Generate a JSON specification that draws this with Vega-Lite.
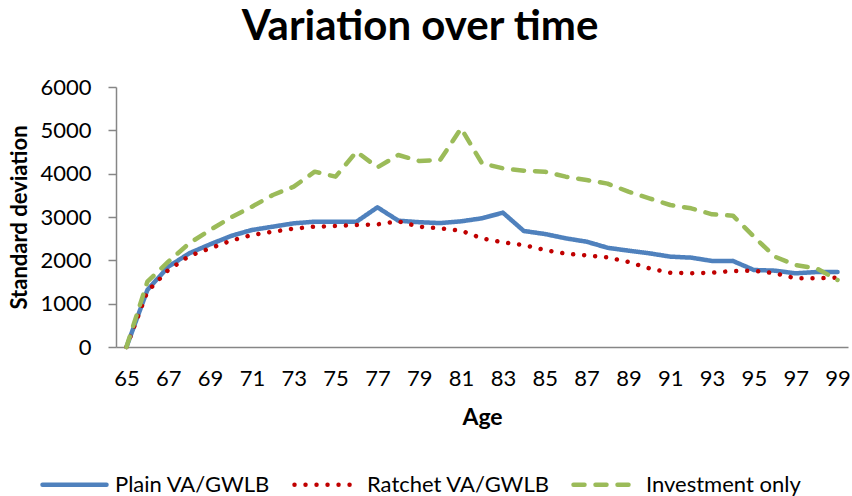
{
  "$schema": "https://vega.github.io/schema/vega-lite/v6.json",
  "width": 732,
  "height": 260,
  "autosize": "none",
  "padding": {"left": 116, "top": 87, "right": 4, "bottom": 149},
  "background": "white",
  "title": {
    "text": "Variation over time",
    "font": "Lato",
    "fontSize": 42,
    "fontWeight": "bold",
    "color": "#000000",
    "anchor": "middle",
    "frame": "group",
    "dx": -62,
    "offset": 27
  },
  "config": {
    "view": {"stroke": null},
    "font": "Lato"
  },
  "data": {
    "values": [
      {"age": 65, "series": "Plain VA/GWLB", "value": 0},
      {"age": 66, "series": "Plain VA/GWLB", "value": 1315},
      {"age": 67, "series": "Plain VA/GWLB", "value": 1853},
      {"age": 68, "series": "Plain VA/GWLB", "value": 2162},
      {"age": 69, "series": "Plain VA/GWLB", "value": 2370},
      {"age": 70, "series": "Plain VA/GWLB", "value": 2562},
      {"age": 71, "series": "Plain VA/GWLB", "value": 2700},
      {"age": 72, "series": "Plain VA/GWLB", "value": 2777},
      {"age": 73, "series": "Plain VA/GWLB", "value": 2854},
      {"age": 74, "series": "Plain VA/GWLB", "value": 2892},
      {"age": 75, "series": "Plain VA/GWLB", "value": 2892},
      {"age": 76, "series": "Plain VA/GWLB", "value": 2892},
      {"age": 77, "series": "Plain VA/GWLB", "value": 3224},
      {"age": 78, "series": "Plain VA/GWLB", "value": 2915},
      {"age": 79, "series": "Plain VA/GWLB", "value": 2880},
      {"age": 80, "series": "Plain VA/GWLB", "value": 2860},
      {"age": 81, "series": "Plain VA/GWLB", "value": 2900},
      {"age": 82, "series": "Plain VA/GWLB", "value": 2970},
      {"age": 83, "series": "Plain VA/GWLB", "value": 3100},
      {"age": 84, "series": "Plain VA/GWLB", "value": 2677},
      {"age": 85, "series": "Plain VA/GWLB", "value": 2608},
      {"age": 86, "series": "Plain VA/GWLB", "value": 2508},
      {"age": 87, "series": "Plain VA/GWLB", "value": 2430},
      {"age": 88, "series": "Plain VA/GWLB", "value": 2290},
      {"age": 89, "series": "Plain VA/GWLB", "value": 2223},
      {"age": 90, "series": "Plain VA/GWLB", "value": 2162},
      {"age": 91, "series": "Plain VA/GWLB", "value": 2085},
      {"age": 92, "series": "Plain VA/GWLB", "value": 2062},
      {"age": 93, "series": "Plain VA/GWLB", "value": 1985},
      {"age": 94, "series": "Plain VA/GWLB", "value": 1985},
      {"age": 95, "series": "Plain VA/GWLB", "value": 1777},
      {"age": 96, "series": "Plain VA/GWLB", "value": 1762},
      {"age": 97, "series": "Plain VA/GWLB", "value": 1700},
      {"age": 98, "series": "Plain VA/GWLB", "value": 1731},
      {"age": 99, "series": "Plain VA/GWLB", "value": 1731},
      {"age": 65, "series": "Ratchet VA/GWLB", "value": 0},
      {"age": 66, "series": "Ratchet VA/GWLB", "value": 1280},
      {"age": 67, "series": "Ratchet VA/GWLB", "value": 1777},
      {"age": 68, "series": "Ratchet VA/GWLB", "value": 2100},
      {"age": 69, "series": "Ratchet VA/GWLB", "value": 2277},
      {"age": 70, "series": "Ratchet VA/GWLB", "value": 2454},
      {"age": 71, "series": "Ratchet VA/GWLB", "value": 2585},
      {"age": 72, "series": "Ratchet VA/GWLB", "value": 2662},
      {"age": 73, "series": "Ratchet VA/GWLB", "value": 2731},
      {"age": 74, "series": "Ratchet VA/GWLB", "value": 2777},
      {"age": 75, "series": "Ratchet VA/GWLB", "value": 2792},
      {"age": 76, "series": "Ratchet VA/GWLB", "value": 2815},
      {"age": 77, "series": "Ratchet VA/GWLB", "value": 2831},
      {"age": 78, "series": "Ratchet VA/GWLB", "value": 2900},
      {"age": 79, "series": "Ratchet VA/GWLB", "value": 2777},
      {"age": 80, "series": "Ratchet VA/GWLB", "value": 2738},
      {"age": 81, "series": "Ratchet VA/GWLB", "value": 2685},
      {"age": 82, "series": "Ratchet VA/GWLB", "value": 2508},
      {"age": 83, "series": "Ratchet VA/GWLB", "value": 2415},
      {"age": 84, "series": "Ratchet VA/GWLB", "value": 2354},
      {"age": 85, "series": "Ratchet VA/GWLB", "value": 2238},
      {"age": 86, "series": "Ratchet VA/GWLB", "value": 2154},
      {"age": 87, "series": "Ratchet VA/GWLB", "value": 2115},
      {"age": 88, "series": "Ratchet VA/GWLB", "value": 2069},
      {"age": 89, "series": "Ratchet VA/GWLB", "value": 1962},
      {"age": 90, "series": "Ratchet VA/GWLB", "value": 1815},
      {"age": 91, "series": "Ratchet VA/GWLB", "value": 1715},
      {"age": 92, "series": "Ratchet VA/GWLB", "value": 1700},
      {"age": 93, "series": "Ratchet VA/GWLB", "value": 1715},
      {"age": 94, "series": "Ratchet VA/GWLB", "value": 1754},
      {"age": 95, "series": "Ratchet VA/GWLB", "value": 1762},
      {"age": 96, "series": "Ratchet VA/GWLB", "value": 1700},
      {"age": 97, "series": "Ratchet VA/GWLB", "value": 1585},
      {"age": 98, "series": "Ratchet VA/GWLB", "value": 1585},
      {"age": 99, "series": "Ratchet VA/GWLB", "value": 1600},
      {"age": 65, "series": "Investment only", "value": 0},
      {"age": 66, "series": "Investment only", "value": 1508},
      {"age": 67, "series": "Investment only", "value": 1969},
      {"age": 68, "series": "Investment only", "value": 2392},
      {"age": 69, "series": "Investment only", "value": 2700},
      {"age": 70, "series": "Investment only", "value": 2992},
      {"age": 71, "series": "Investment only", "value": 3238},
      {"age": 72, "series": "Investment only", "value": 3508},
      {"age": 73, "series": "Investment only", "value": 3700},
      {"age": 74, "series": "Investment only", "value": 4046},
      {"age": 75, "series": "Investment only", "value": 3931},
      {"age": 76, "series": "Investment only", "value": 4508},
      {"age": 77, "series": "Investment only", "value": 4146},
      {"age": 78, "series": "Investment only", "value": 4431},
      {"age": 79, "series": "Investment only", "value": 4292},
      {"age": 80, "series": "Investment only", "value": 4315},
      {"age": 81, "series": "Investment only", "value": 5046},
      {"age": 82, "series": "Investment only", "value": 4238},
      {"age": 83, "series": "Investment only", "value": 4123},
      {"age": 84, "series": "Investment only", "value": 4069},
      {"age": 85, "series": "Investment only", "value": 4046},
      {"age": 86, "series": "Investment only", "value": 3931},
      {"age": 87, "series": "Investment only", "value": 3854},
      {"age": 88, "series": "Investment only", "value": 3770},
      {"age": 89, "series": "Investment only", "value": 3585},
      {"age": 90, "series": "Investment only", "value": 3431},
      {"age": 91, "series": "Investment only", "value": 3277},
      {"age": 92, "series": "Investment only", "value": 3200},
      {"age": 93, "series": "Investment only", "value": 3062},
      {"age": 94, "series": "Investment only", "value": 3031},
      {"age": 95, "series": "Investment only", "value": 2546},
      {"age": 96, "series": "Investment only", "value": 2085},
      {"age": 97, "series": "Investment only", "value": 1892},
      {"age": 98, "series": "Investment only", "value": 1815},
      {"age": 99, "series": "Investment only", "value": 1546}
    ]
  },
  "mark": {"type": "line", "strokeWidth": 4.5, "strokeCap": "round", "strokeJoin": "round"},
  "encoding": {
    "x": {
      "field": "age",
      "type": "ordinal",
      "scale": {"type": "point", "padding": 0.5},
      "axis": {
        "title": "Age",
        "values": [65, 67, 69, 71, 73, 75, 77, 79, 81, 83, 85, 87, 89, 91, 93, 95, 97, 99],
        "labelAngle": 0,
        "labelFont": "Lato",
        "labelFontSize": 22,
        "labelColor": "#000000",
        "labelPadding": 21,
        "ticks": false,
        "tickSize": 0,
        "domainColor": "#868686",
        "domainWidth": 1.5,
        "grid": false,
        "titleFont": "Lato",
        "titleFontSize": 23,
        "titleFontWeight": "bold",
        "titleColor": "#000000",
        "titlePadding": 17
      }
    },
    "y": {
      "field": "value",
      "type": "quantitative",
      "scale": {"domain": [0, 6000], "nice": false},
      "axis": {
        "title": "Standard deviation",
        "values": [0, 1000, 2000, 3000, 4000, 5000, 6000],
        "format": "d",
        "labelFont": "Lato",
        "labelFontSize": 22,
        "labelColor": "#000000",
        "labelPadding": 17,
        "tickSize": 8,
        "tickColor": "#868686",
        "tickWidth": 1.5,
        "domainColor": "#868686",
        "domainWidth": 1.5,
        "grid": false,
        "titleFont": "Lato",
        "titleFontSize": 22,
        "titleFontWeight": "bold",
        "titleColor": "#000000",
        "titlePadding": 8
      }
    },
    "color": {
      "field": "series",
      "type": "nominal",
      "scale": {
        "domain": ["Plain VA/GWLB", "Ratchet VA/GWLB", "Investment only"],
        "range": ["#4F81BD", "#C00000", "#9BBB59"]
      },
      "legend": {
        "title": null,
        "orient": "none",
        "direction": "horizontal",
        "legendX": -76,
        "legendY": 363,
        "symbolType": "stroke",
        "symbolSize": 4096,
        "symbolStrokeWidth": 4.5,
        "labelFont": "Lato",
        "labelFontSize": 22,
        "labelColor": "#000000",
        "labelLimit": 400,
        "labelOffset": 6,
        "columnPadding": 14,
        "padding": 0,
        "encode": {
          "symbols": {
            "update": {
              "strokeCap": {"value": "round"}
            }
          }
        }
      }
    },
    "strokeDash": {
      "field": "series",
      "type": "nominal",
      "scale": {
        "domain": ["Plain VA/GWLB", "Ratchet VA/GWLB", "Investment only"],
        "range": [[1, 0], [0.01, 11], [11, 11]]
      },
      "legend": null
    }
  }
}
